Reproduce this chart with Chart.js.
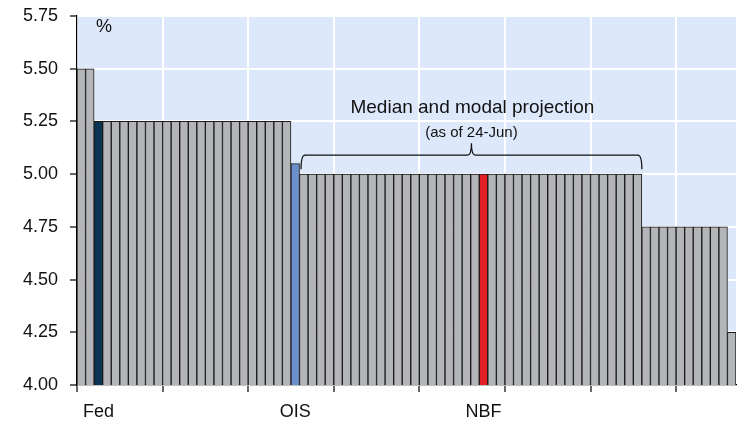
<!DOCTYPE html>
<html>
<head>
<meta charset="utf-8">
<script src="https://cdn.jsdelivr.net/npm/chart.js@4/dist/chart.umd.min.js"></script>
<style>
html,body{margin:0;padding:0;background:#fff;}
#wrap{width:746px;height:421px;}
</style>
</head>
<body>
<div id="wrap"><canvas id="c" width="746" height="421"></canvas></div>
<script>
// Categories (one per bar); only three are labelled
const categories = [
  '', '', 'Fed', '', '', '', '', '', '', '',
  '', '', '', '', '', '', '', '', '', '',
  '', '', '', '', '', 'OIS', '', '', '', '',
  '', '', '', '', '', '', '', '', '', '',
  '', '', '', '', '', '', '', 'NBF', '', '',
  '', '', '', '', '', '', '', '', '', '',
  '', '', '', '', '', '', '', '', '', '',
  '', '', '', '', '', '', ''
];
// Rate projections (%)
const rates = [
  5.50, 5.50, 5.25, 5.25, 5.25, 5.25, 5.25, 5.25, 5.25, 5.25,
  5.25, 5.25, 5.25, 5.25, 5.25, 5.25, 5.25, 5.25, 5.25, 5.25,
  5.25, 5.25, 5.25, 5.25, 5.25, 5.05, 5.00, 5.00, 5.00, 5.00,
  5.00, 5.00, 5.00, 5.00, 5.00, 5.00, 5.00, 5.00, 5.00, 5.00,
  5.00, 5.00, 5.00, 5.00, 5.00, 5.00, 5.00, 5.00, 5.00, 5.00,
  5.00, 5.00, 5.00, 5.00, 5.00, 5.00, 5.00, 5.00, 5.00, 5.00,
  5.00, 5.00, 5.00, 5.00, 5.00, 5.00, 4.75, 4.75, 4.75, 4.75,
  4.75, 4.75, 4.75, 4.75, 4.75, 4.75, 4.25
];
const yTicks = [4.00, 4.25, 4.50, 4.75, 5.00, 5.25, 5.50, 5.75];
const unitLabel = '%';
const annotationTitle = 'Median and modal projection';
const annotationSub = '(as of 24-Jun)';
const braceFrom = 26; // first bar under the brace (index)
const braceTo = 65;   // last bar under the brace (index)
const braceLevel = 5.00;

const highlight = { 'Fed': '#0B3352', 'OIS': '#6B8FCB', 'NBF': '#E21F26' };
const FONT = "'Liberation Sans', Arial, sans-serif";

const bgPlugin = {
  id: 'bg',
  beforeDraw(chart) {
    const { ctx, chartArea: a } = chart;
    ctx.save();
    ctx.fillStyle = '#DDE9FB';
    ctx.fillRect(a.left, a.top, a.right - a.left, a.bottom - a.top);
    ctx.restore();
  }
};

const annPlugin = {
  id: 'ann',
  afterDatasetsDraw(chart) {
    const { ctx, chartArea: a, scales: { x, y } } = chart;
    const step = x.getPixelForValue(1) - x.getPixelForValue(0);
    ctx.save();
    ctx.fillStyle = '#111';
    ctx.textBaseline = 'middle';
    ctx.textAlign = 'center';
    ctx.font = '18px ' + FONT;
    ctx.fillText(unitLabel, a.left + 27, a.top + 11);

    const xl = x.getPixelForValue(braceFrom) - step / 2 + 1.5;
    const xr = x.getPixelForValue(braceTo) + step / 2;
    const xm = (xl + xr) / 2;
    const yb = y.getPixelForValue(braceLevel) - 5;
    const yh = y.getPixelForValue(braceLevel) - 19;
    const yt = y.getPixelForValue(braceLevel) - 31;

    ctx.font = '19px ' + FONT;
    ctx.fillText(annotationTitle, xm + 1, yt - 35);
    ctx.font = '15px ' + FONT;
    ctx.fillText(annotationSub, xm, yt - 10);

    const r = 4;
    ctx.strokeStyle = '#111';
    ctx.lineWidth = 1.2;
    ctx.beginPath();
    ctx.moveTo(xl, yb);
    ctx.quadraticCurveTo(xl, yh, xl + r, yh);
    ctx.lineTo(xm - r, yh);
    ctx.quadraticCurveTo(xm, yh, xm, yt);
    ctx.quadraticCurveTo(xm, yh, xm + r, yh);
    ctx.lineTo(xr - r, yh);
    ctx.quadraticCurveTo(xr, yh, xr, yb);
    ctx.stroke();
    ctx.restore();
  }
};

new Chart(document.getElementById('c'), {
  type: 'bar',
  data: {
    labels: categories,
    datasets: [{
      data: rates,
      backgroundColor: (c) => highlight[categories[c.dataIndex]] || '#B4B5B9',
      borderColor: '#1a1a1a',
      borderWidth: 1,
      barPercentage: 1,
      categoryPercentage: 1
    }]
  },
  options: {
    responsive: false,
    animation: false,
    devicePixelRatio: 1,
    layout: { padding: { left: 0, top: 16, right: 10, bottom: 0 } },
    plugins: { legend: { display: false }, tooltip: { enabled: false } },
    scales: {
      x: {
        offset: true,
        grid: {
          offset: true,
          color: (c) => (c.index % 10 === 0 ? '#FFFFFF' : 'rgba(0,0,0,0)'),
          tickColor: (c) => (c.index % 10 === 0 && c.index < categories.length ? '#000' : 'rgba(0,0,0,0)'),
          lineWidth: 2,
          tickWidth: 1.2,
          tickLength: 7,
          drawOnChartArea: true
        },
        border: { display: true, color: '#000', width: 1.2 },
        ticks: {
          autoSkip: false,
          maxRotation: 0,
          minRotation: 0,
          padding: 9,
          color: '#111',
          font: { family: FONT, size: 18 }
        },
        afterFit(s) { s.height = 36; }
      },
      y: {
        min: 4,
        max: 5.75,
        afterBuildTicks(s) { s.ticks = yTicks.map(v => ({ value: v })); },
        grid: { color: '#FFFFFF', lineWidth: 2, tickColor: '#000', tickLength: 7, tickWidth: 1.2 },
        border: { display: true, color: '#000', width: 1.2 },
        ticks: {
          padding: 12,
          color: '#111',
          font: { family: FONT, size: 18 },
          callback: (v) => Number(v).toFixed(2)
        },
        afterFit(s) { s.width = 77; s.paddingTop = 4; s.paddingBottom = 4; }
      }
    }
  },
  plugins: [bgPlugin, annPlugin]
});
</script>
</body>
</html>
